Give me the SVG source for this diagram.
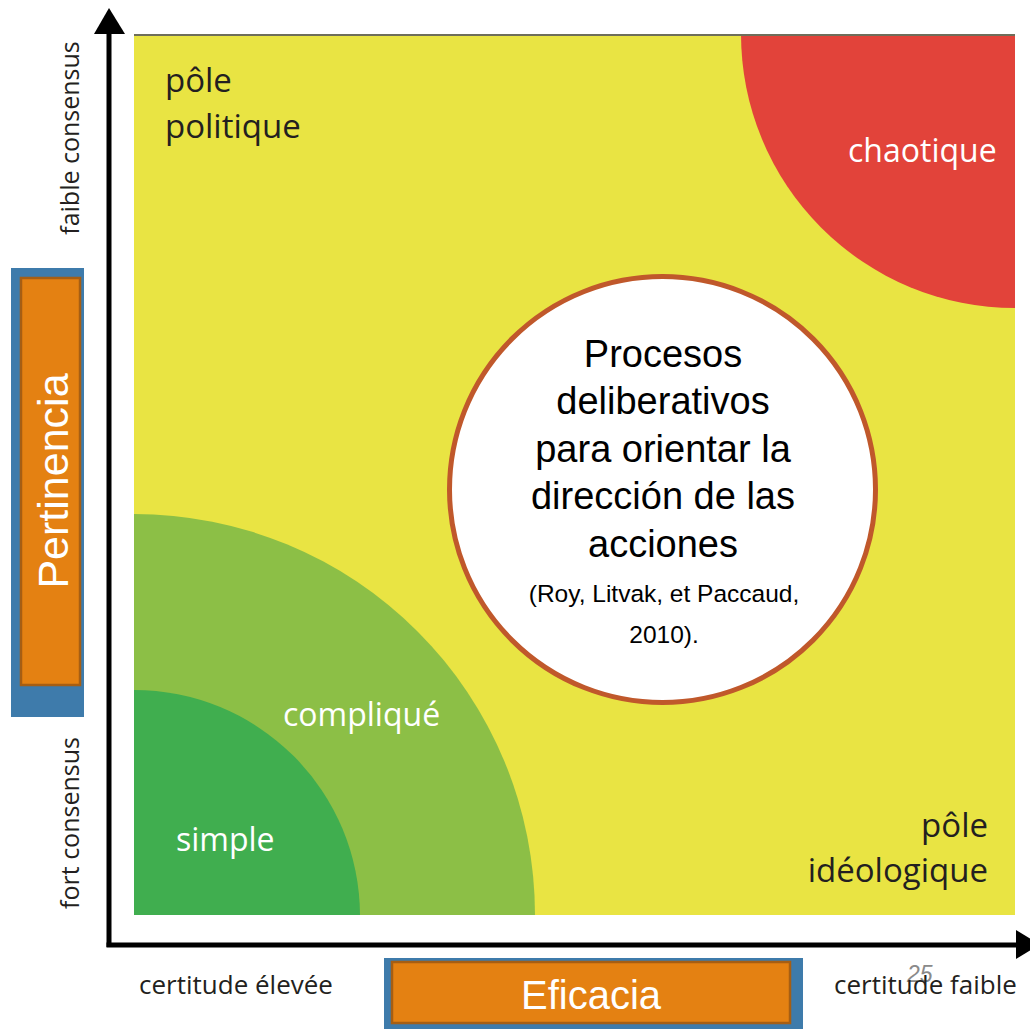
<svg xmlns="http://www.w3.org/2000/svg" width="1030" height="1029" viewBox="0 0 1030 1029">
<style>
.lbl{font-family:"Open Sans","Liberation Sans",sans-serif;font-size:33px;fill:#231f20}
.wlbl{font-family:"Open Sans","Liberation Sans",sans-serif;font-size:32px;fill:#ffffff}
.axl{font-family:"Open Sans","Liberation Sans",sans-serif;font-size:25px;fill:#231f20}
.axh{font-family:"Open Sans","Liberation Sans",sans-serif;font-size:26px;fill:#231f20}
.main{font-family:"Liberation Sans",Arial,sans-serif;font-size:38px;fill:#000;text-anchor:middle}
.cite{font-family:"Liberation Sans",Arial,sans-serif;font-size:24.5px;fill:#000;text-anchor:middle}
.box{font-family:"Liberation Sans",Arial,sans-serif;fill:#ffffff;text-anchor:middle}
</style>
<rect width="1030" height="1029" fill="#ffffff"/>
<g id="field">
<rect x="134" y="34" width="881" height="881" fill="#e9e443"/>
</g>
<g id="chaotique">
<path d="M 741 34 A 274 274 0 0 0 1015 308 L 1015 34 Z" fill="#e2433a"/>
<text class="wlbl" x="848" y="162">chaotique</text>
</g>
<g id="complique">
<path d="M 134 514 A 401 401 0 0 1 535 915 L 134 915 Z" fill="#8cbf46"/>
<text class="wlbl" x="283" y="726">compliqué</text>
</g>
<g id="simple">
<path d="M 134 690 A 226 226 0 0 1 360 915 L 134 915 Z" fill="#40ae4f"/>
<text class="wlbl" x="176" y="851">simple</text>
</g>
<line x1="134" y1="35" x2="1015" y2="35" stroke="#6e6e5a" stroke-width="2"/>
<g id="pole-politique">
<text class="lbl" x="165" y="92">pôle</text>
<text class="lbl" x="165" y="138">politique</text>
</g>
<g id="pole-ideologique">
<text class="lbl" x="988" y="837" text-anchor="end">pôle</text>
<text class="lbl" x="988" y="882" text-anchor="end">idéologique</text>
</g>
<g id="procesos">
<circle cx="662.5" cy="489.5" r="213" fill="#ffffff" stroke="#c0582b" stroke-width="5"/>
<text class="main" x="663" y="367">Procesos</text>
<text class="main" x="663" y="414">deliberativos</text>
<text class="main" x="663" y="462">para orientar la</text>
<text class="main" x="663" y="509">dirección de las</text>
<text class="main" x="663" y="557">acciones</text>
<text class="cite" x="664" y="602">(Roy, Litvak, et Paccaud,</text>
<text class="cite" x="664" y="643">2010).</text>
</g>
<g id="connectors">
<line x1="109" y1="30" x2="109" y2="947" stroke="#000" stroke-width="5"/>
<polygon points="109,8 94,34 125,34" fill="#000"/>
<line x1="106.5" y1="945" x2="1020" y2="945" stroke="#000" stroke-width="5"/>
<polygon points="1016,930 1016,959 1040,944.5" fill="#000"/>
</g>
<g id="axis-labels">
<text class="axl" transform="translate(79,138) rotate(-90)" text-anchor="middle">faible consensus</text>
<text class="axl" transform="translate(79,823) rotate(-90)" text-anchor="middle">fort consensus</text>
<text class="axh" x="139" y="994">certitude élevée</text>
<text x="907" y="982" font-family="Liberation Sans,Arial,sans-serif" font-size="23" font-style="italic" fill="#8a8a8a">25</text>
<text class="axh" x="834" y="994">certitude faible</text>
</g>
<g id="pertinencia">
<rect x="11" y="268" width="73" height="449" fill="#3e7bab"/>
<rect x="21" y="278" width="59" height="407" fill="#e48112" stroke="#a65e13" stroke-width="2.5"/>
<text class="box" font-size="43" transform="translate(68,481) rotate(-90)">Pertinencia</text>
</g>
<g id="eficacia">
<rect x="384" y="958" width="419" height="71" fill="#3e7bab"/>
<rect x="392" y="962" width="398" height="61" fill="#e48112" stroke="#a65e13" stroke-width="2.5"/>
<text class="box" font-size="40" x="591" y="1009">Eficacia</text>
</g>
</svg>
